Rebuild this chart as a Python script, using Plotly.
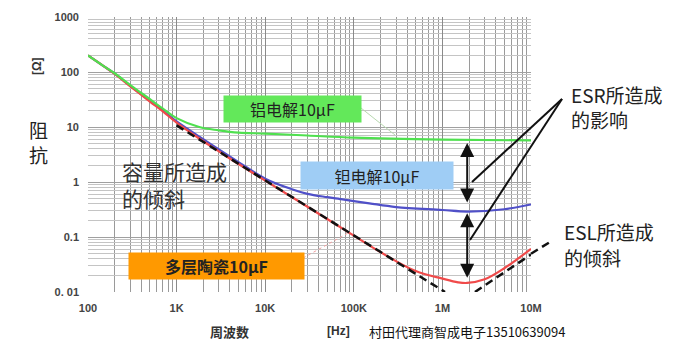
import plotly.graph_objects as go

# ---- data ----
freq_al = [100, 150, 200, 300, 500, 700, 1e3, 1.8e3, 3e3, 5e3, 1e4, 3e4, 1e5, 1e6, 1e7]
z_al = [200, 128, 95, 58, 32, 21.5, 14.5, 10, 8.7, 7.9, 7.6, 7.0, 6.4, 5.9, 5.7]

freq_ta = [100, 150, 200, 300, 500, 700, 1e3, 2e3, 3e3, 5e3, 1e4, 2e4, 3e4, 5e4, 7e4, 1e5, 1.5e5, 3e5, 1e6, 1.9e6, 5e6, 1e7]
z_ta = [200, 128, 93, 56, 30, 20, 12.6, 6.0, 3.9, 2.3, 1.15, 0.74, 0.61, 0.53, 0.49, 0.45, 0.41, 0.35, 0.31, 0.29, 0.32, 0.39]

freq_mlcc = [100, 150, 200, 300, 500, 700, 1e3, 2e3, 3e3, 5e3, 1e4, 3e4, 1e5, 2e5, 5e5, 1e6, 1.5e6, 1.9e6, 3e6, 5e6, 1e7]
z_mlcc = [200, 128, 92, 55, 29, 19.2, 12.0, 5.5, 3.6, 2.12, 1.06, 0.355, 0.106, 0.053, 0.024, 0.0175, 0.015, 0.0146, 0.017, 0.027, 0.061]

freq_cap_line = [1e3, 1.07e6]
z_cap_line = [10.7, 0.01]
freq_esl_line = [2.33e6, 1e7]
z_esl_line = [0.01, 0.048]

x_tickvals = [1e2, 1e3, 1e4, 1e5, 1e6, 1e7]
x_ticktext = ["100", "1K", "10K", "100K", "1M", "10M"]
y_tickvals = [0.01, 0.1, 1, 10, 100, 1000]
y_ticktext = ["0. 01", "0.1", "1", "10", "100", "1000"]

minor_x = [m * 10 ** e for e in range(2, 7) for m in range(2, 10)]
minor_y = [m * 10.0 ** e for e in range(-2, 3) for m in range(2, 10)]

CJK = "Noto Sans CJK SC"

fig = go.Figure()
fig.add_trace(go.Scatter(x=freq_ta, y=z_ta, mode="lines",
                         line=dict(color="#5050c8", width=2.2, shape="spline")))
fig.add_trace(go.Scatter(x=freq_mlcc, y=z_mlcc, mode="lines",
                         line=dict(color="#f04a4a", width=2.2, shape="spline")))
fig.add_trace(go.Scatter(x=freq_al, y=z_al, mode="lines",
                         line=dict(color="#4fe04f", width=2.2, shape="spline")))
fig.add_trace(go.Scatter(x=freq_cap_line, y=z_cap_line, mode="lines",
                         line=dict(color="#111", width=2.5, dash="8px,5px")))
fig.add_trace(go.Scatter(x=freq_esl_line, y=z_esl_line, mode="lines",
                         line=dict(color="#111", width=2.5, dash="8px,5px")))


def px(X):
    return (X - 88) / 443


def py(Y):
    return (292 - Y) / 275


shapes = [
    # dashed ESL line continuing past the plot edge
    dict(type="line", xref="paper", yref="paper", x0=1.0, y0=0.139, x1=1.043, y1=0.182,
         line=dict(color="#111", width=2.5, dash="8px,5px")),
    # ESR leader lines
    dict(type="line", xref="paper", yref="paper", x0=px(562), y0=py(99), x1=px(472), y1=py(182),
         line=dict(color="#111", width=2)),
    dict(type="line", xref="paper", yref="paper", x0=px(562), y0=py(99), x1=px(470), y1=py(240),
         line=dict(color="#111", width=2)),
    # thin leaders from labels
    dict(type="line", xref="paper", yref="paper", x0=px(361), y0=py(108), x1=px(395), y1=py(135),
         line=dict(color="#b8d8b0", width=1)),
    dict(type="line", xref="paper", yref="paper", x0=px(303), y0=py(258), x1=px(350), y1=py(232),
         line=dict(color="#f0a0a0", width=1, dash="dot")),
]


def label(text, X, Y, size, color="#222", anchor="left", **kw):
    return dict(text=text, xref="paper", yref="paper", x=px(X), y=py(Y), xanchor=anchor, yanchor="middle",
                showarrow=False, font=dict(family=CJK, size=size, color=color), **kw)


annotations = [
    dict(text="铝电解10μF", xref="paper", yref="paper", x=px(223), y=py(95), xanchor="left", yanchor="top",
         width=137, height=26, bgcolor="#63e85a", borderpad=0, showarrow=False,
         font=dict(family=CJK, size=16, color="#222")),
    dict(text="钽电解10μF", xref="paper", yref="paper", x=px(300), y=py(161), xanchor="left", yanchor="top",
         width=152, height=27, bgcolor="#9fcdf5", borderpad=0, showarrow=False,
         font=dict(family=CJK, size=16, color="#222")),
    dict(text="多层陶瓷10μF", xref="paper", yref="paper", x=px(128), y=py(252), xanchor="left", yanchor="top",
         width=175, height=26, bgcolor="#ff9900", borderpad=0, showarrow=False,
         font=dict(family=CJK, size=16, color="#222", weight="bold")),
    dict(text="容量所造成<br>的倾斜", xref="paper", yref="paper", x=px(120), y=py(154), xanchor="left", yanchor="top",
         align="left", showarrow=False, font=dict(family=CJK, size=21, color="#333")),
    label("ESR所造成", 569, 94, 19),
    label("的影响", 569, 120, 19),
    label("ESL所造成", 562, 231, 19),
    label("的倾斜", 562, 257, 19),
    label("阻", 38, 129, 19, anchor="center"),
    label("抗", 38, 154.5, 19, anchor="center"),
    dict(text="[Ω]", xref="paper", yref="paper", x=px(37), y=py(66), xanchor="center", yanchor="middle",
         textangle=-90, showarrow=False, font=dict(family="Liberation Sans", size=12, color="#333", weight="bold")),
    dict(text="周波数", xref="paper", yref="paper", x=px(229), y=py(331), xanchor="center", yanchor="middle",
         showarrow=False, font=dict(family=CJK, size=13, color="#333", weight="bold")),
    dict(text="[Hz]", xref="paper", yref="paper", x=px(338), y=py(331), xanchor="center", yanchor="middle",
         showarrow=False, font=dict(family="Liberation Sans", size=12, color="#333", weight="bold")),
    label("村田代理商智成电子13510639094", 367, 331, 13, color="#111"),
    # double arrows (ESR effect)
    dict(x=6.28, y=0.71, ax=6.28, ay=-0.40, xref="x", yref="y", axref="x", ayref="y", text="",
         showarrow=True, arrowhead=2, startarrowhead=2, arrowside="end+start", arrowsize=1.4, startarrowsize=1.4,
         arrowwidth=2, arrowcolor="#111"),
    dict(x=6.28, y=-0.57, ax=6.28, ay=-1.77, xref="x", yref="y", axref="x", ayref="y", text="",
         showarrow=True, arrowhead=2, startarrowhead=2, arrowside="end+start", arrowsize=1.4, startarrowsize=1.4,
         arrowwidth=2, arrowcolor="#111"),
]

fig.update_layout(
    width=694, height=351,
    margin=dict(l=88, r=163, t=17, b=59),
    paper_bgcolor="white", plot_bgcolor="white",
    showlegend=False,
    shapes=shapes,
    annotations=annotations,
    xaxis=dict(type="log", range=[2, 7], tickmode="array", tickvals=x_tickvals, ticktext=x_ticktext,
               showgrid=True, gridcolor="#8a8a8a", gridwidth=1, zeroline=False, showline=False, ticks="",
               ticklabelstandoff=8,
               tickfont=dict(family="Liberation Sans", size=11, color="#444", weight="bold"),
               minor=dict(tickmode="array", tickvals=minor_x, showgrid=True, gridcolor="#9a9a9a", gridwidth=1)),
    yaxis=dict(type="log", range=[-2, 3], tickmode="array", tickvals=y_tickvals, ticktext=y_ticktext,
               showgrid=True, gridcolor="#a0a0a0", gridwidth=1, zeroline=False, showline=False, ticks="",
               ticklabelstandoff=8,
               tickfont=dict(family="Liberation Sans", size=11, color="#444", weight="bold"),
               minor=dict(tickmode="array", tickvals=minor_y, showgrid=True, gridcolor="#c4c4c4", gridwidth=1)),
)

fig.write_html("out.html")
